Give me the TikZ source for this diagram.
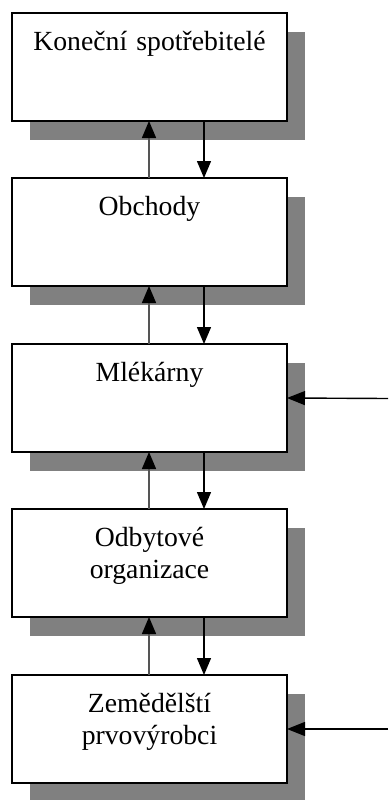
\documentclass[tikz,border=0pt]{standalone}
\usepackage{fontspec}
\setmainfont{Liberation Serif}
\usetikzlibrary{arrows.meta,shadows}
\definecolor{shadowgray}{HTML}{808080}
\definecolor{upline}{HTML}{555555}
\tikzset{
  box/.style={draw=black, fill=white, line width=1.5pt, rectangle, inner sep=0pt, outer sep=0pt,
    minimum width=275pt, minimum height=108pt, anchor=north west,
    drop shadow={shadow xshift=17.5pt, shadow yshift=-19pt, fill=shadowgray, opacity=1}},
  label text/.style={font=\fontsize{27.7}{32}\selectfont, text width=275pt, align=center,
    anchor=base, inner sep=0pt, yshift=-37.5pt},
  uparrow/.style={draw=upline, line width=1.4pt, -{Triangle[length=17pt,width=14pt,black]}},
  downarrow/.style={draw=black, line width=1.4pt, -{Triangle[length=17pt,width=14pt,black]}},
  inarrow/.style={draw=black, line width=1.4pt, -{Triangle[length=18pt,width=14pt,black]}}
}
\begin{document}
\begin{tikzpicture}[x=1pt,y=-1pt]
\useasboundingbox (0,0) rectangle (388,800);
\node[box] (b1) at (12,13) {};
\node[box] (b2) at (12,178) {};
\node[box] (b3) at (12,344) {};
\node[box] (b4) at (12,509) {};
\node[box] (b5) at (12,675) {};
\node[label text] (t1) at (b1.north) {Koneční spotřebitelé};
\node[label text] (t2) at (b2.north) {Obchody};
\node[label text] (t3) at (b3.north) {Mlékárny};
\node[label text] (t4) at (b4.north) {Odbytové\\organizace};
\node[label text] (t5) at (b5.north) {Zemědělští\\prvovýrobci};
\foreach \lo/\hi in {b2/b1,b3/b2,b4/b3,b5/b4}{
  \draw[uparrow] ([xshift=-0.5pt]\lo.north) -- ([xshift=-0.5pt]\hi.south);
  \draw[downarrow] ([xshift=54.5pt]\hi.south) -- ([xshift=54.5pt]\lo.north);
}
\coordinate (in3) at (388,398.5);
\coordinate (in5) at (388,729);
\draw[inarrow] (in3) -- (b3.east);
\draw[inarrow] (in5) -- (b5.east);
\end{tikzpicture}
\end{document}
